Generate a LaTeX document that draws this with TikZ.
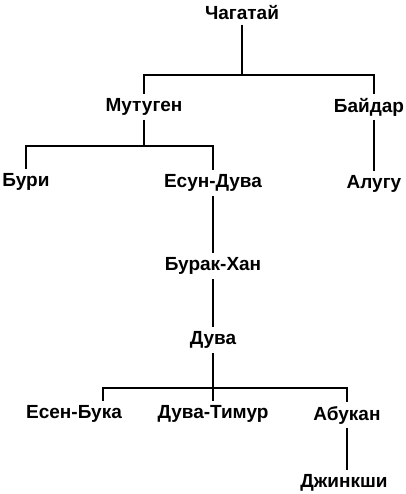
\documentclass[tikz,border=0pt]{standalone}
\usepackage{fontspec}
\setmainfont{Liberation Sans}
\usepackage{tikz}

\begin{document}
\begin{tikzpicture}[x=0.5pt,y=-0.5pt,
  person/.style={inner sep=2pt,font=\fontsize{9.5}{10}\selectfont\bfseries},
  line/.style={line width=0.7pt}]
\useasboundingbox (0,0) rectangle (406,494);
\node[person] (chagatai) at (242,13) {Чагатай};
\node[person] (mutugen) at (144,107) {Мутуген};
\node[person] (baidar) at (369,107) {Байдар};
\node[person] (buri) at (26,182) {Бури};
\node[person] (esun) at (213,183) {Есун-Дува};
\node[person] (alugu) at (374,184) {Алугу};
\node[person] (burak) at (213,266) {Бурак-Хан};
\node[person] (duva) at (213,340) {Дува};
\node[person] (esen) at (74,414) {Есен-Бука};
\node[person] (duvatimur) at (213,414) {Дува-Тимур};
\node[person] (abukan) at (347,415) {Абукан};
\node[person] (dzhinkshi) at (344,483) {Джинкши};
\coordinate (bar1) at (242,75);
\coordinate (bar2) at (144,146);
\coordinate (bar3) at (213,388);
\draw[line] (chagatai) -- (bar1);
\draw[line] (mutugen) |- (bar1) -| (baidar.north -| alugu);
\draw[line] (mutugen) -- (bar2);
\draw[line] (buri) |- (bar2) -| (esun);
\draw[line] (baidar.south -| alugu) -- (alugu);
\draw[line] (esun) -- (burak);
\draw[line] (burak) -- (duva);
\draw[line] (duva) -- (duvatimur);
\draw[line] (esen.north -| 103,0) |- (bar3) -| (abukan);
\draw[line] (abukan) -- (abukan |- dzhinkshi.north);
\end{tikzpicture}
\end{document}
